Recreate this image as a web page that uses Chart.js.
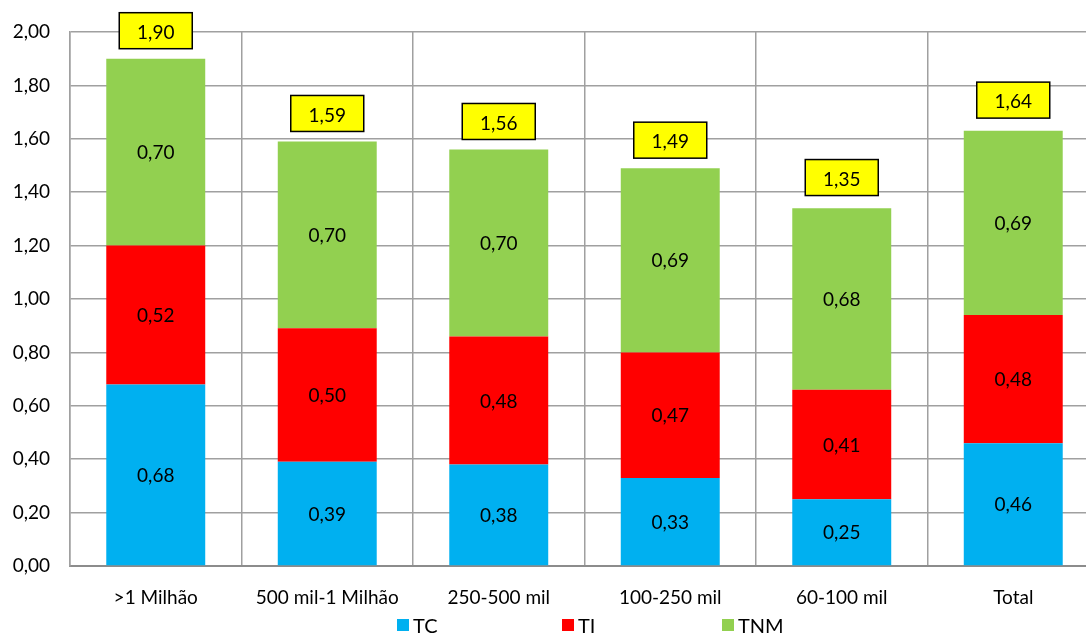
<!DOCTYPE html>
<html>
<head>
<meta charset="utf-8">
<script src="https://cdn.jsdelivr.net/npm/chart.js@4/dist/chart.umd.min.js"></script>
<style>
  html, body { margin: 0; padding: 0; background: #fff; overflow: hidden; }
  #wrap { width: 1086px; height: 635px; overflow: hidden; position: relative; }
  #box { width: 1100px; height: 645px; position: absolute; left: 0; top: 0; }
</style>
</head>
<body>
<div id="wrap"><div id="box"><canvas id="c"></canvas></div></div>
<script>
const categories = ['>1 Milhão', '500 mil-1 Milhão', '250-500 mil', '100-250 mil', '60-100 mil', 'Total'];
const tcValues  = [0.68, 0.39, 0.38, 0.33, 0.25, 0.46];
const tiValues  = [0.52, 0.50, 0.48, 0.47, 0.41, 0.48];
const tnmValues = [0.70, 0.70, 0.70, 0.69, 0.68, 0.69];
const totals    = [1.90, 1.59, 1.56, 1.49, 1.35, 1.64];
const yTicks    = [0, 0.2, 0.4, 0.6, 0.8, 1.0, 1.2, 1.4, 1.6, 1.8, 2.0];

const FONT = 'Lato, "Liberation Sans", sans-serif';
const fmt = v => v.toFixed(2).replace('.', ',');

// Value label in the middle of every stacked segment
const segmentLabels = {
  id: 'segmentLabels',
  afterDatasetsDraw(chart) {
    const ctx = chart.ctx;
    ctx.save();
    ctx.font = '19px ' + FONT;
    ctx.fillStyle = '#000';
    ctx.textAlign = 'center';
    ctx.textBaseline = 'middle';
    chart.data.datasets.forEach((ds, di) => {
      chart.getDatasetMeta(di).data.forEach((bar, i) => {
        const p = bar.getProps(['x', 'y', 'base'], true);
        ctx.fillText(fmt(ds.data[i]), p.x, (p.y + p.base) / 2 + 1);
      });
    });
    ctx.restore();
  }
};

// Yellow boxed total above each stack
const totalBoxes = {
  id: 'totalBoxes',
  afterDatasetsDraw(chart) {
    const ctx = chart.ctx;
    const yScale = chart.scales.y;
    const last = chart.getDatasetMeta(chart.data.datasets.length - 1);
    ctx.save();
    ctx.font = '19px ' + FONT;
    ctx.textAlign = 'center';
    ctx.textBaseline = 'middle';
    totals.forEach((t, i) => {
      const x = last.data[i].getProps(['x'], true).x;
      const top = yScale.getPixelForValue(t);
      const w = 73, h = 36;
      const bx = x - w / 2, by = top - 10 - h;
      ctx.fillStyle = '#FFFF00';
      ctx.fillRect(bx, by, w, h);
      ctx.lineWidth = 1.5;
      ctx.strokeStyle = '#000';
      ctx.strokeRect(bx, by, w, h);
      ctx.fillStyle = '#000';
      ctx.fillText(fmt(t), x, by + h / 2 + 2);
    });
    ctx.restore();
  }
};

// Legend row under the category labels
const bottomLegend = {
  id: 'bottomLegend',
  afterDraw(chart) {
    const ctx = chart.ctx;
    const starts = [397, 562, 722];
    ctx.save();
    ctx.font = '20px ' + FONT;
    ctx.textBaseline = 'middle';
    ctx.textAlign = 'left';
    chart.data.datasets.forEach((ds, i) => {
      ctx.fillStyle = ds.backgroundColor;
      ctx.fillRect(starts[i], 619, 12, 12);
      ctx.fillStyle = '#000';
      ctx.fillText(ds.label, starts[i] + 16, 627);
    });
    ctx.restore();
  }
};

new Chart(document.getElementById('c'), {
  type: 'bar',
  data: {
    labels: categories,
    datasets: [
      { label: 'TC',  data: tcValues,  backgroundColor: '#00B0F0' },
      { label: 'TI',  data: tiValues,  backgroundColor: '#FF0000' },
      { label: 'TNM', data: tnmValues, backgroundColor: '#92D050' }
    ]
  },
  options: {
    responsive: true,
    maintainAspectRatio: false,
    animation: false,
    layout: { padding: { top: 32, right: 1, bottom: 0, left: 0 } },
    datasets: { bar: { categoryPercentage: 1.0, barPercentage: 0.577 } },
    plugins: { legend: { display: false }, tooltip: { enabled: false } },
    scales: {
      x: {
        stacked: true,
        grid: { color: '#A0A0A0', lineWidth: 1.5, drawTicks: false, offset: true },
        border: { color: '#8C8C8C', width: 2 },
        ticks: { color: '#000', font: { family: FONT, size: 19 }, padding: 20, maxRotation: 0, autoSkip: false },
        afterFit(s) { s.height = 79; }
      },
      y: {
        stacked: true,
        min: 0, max: 2,
        afterBuildTicks(s) { s.ticks = yTicks.map(v => ({ value: v })); },
        grid: { color: '#A0A0A0', lineWidth: 1.5, drawTicks: false },
        border: { color: '#A0A0A0', width: 1.5 },
        ticks: { color: '#000', font: { family: FONT, size: 19 }, padding: 20, callback: v => fmt(v) },
        afterFit(s) { s.width = 70; }
      }
    }
  },
  plugins: [segmentLabels, totalBoxes, bottomLegend]
});
</script>
</body>
</html>
